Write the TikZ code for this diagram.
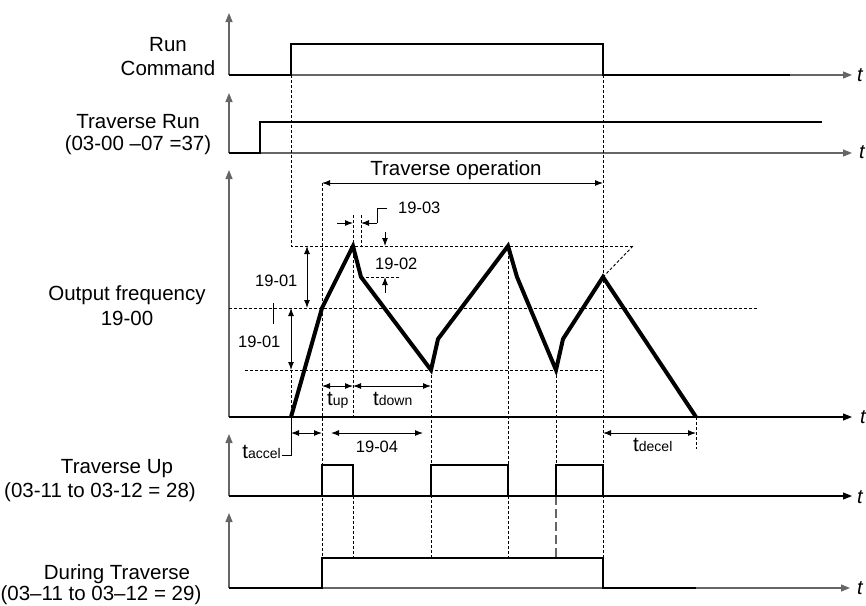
\documentclass[tikz,border=0pt]{standalone}
\usepackage{fontspec}
\setmainfont{Liberation Sans}
\usetikzlibrary{arrows.meta}
\newcommand{\mytsub}[1]{t{\fontsize{14}{14}\selectfont #1}}
\begin{document}
\begin{tikzpicture}[x=1pt,y=-1pt,
  axisline/.style={draw=black!60, line width=1.2pt, -{Triangle[length=9pt,width=7pt]}},
  axisblack/.style={draw=black, line width=1.1pt, -{Triangle[length=9pt,width=7pt]}},
  sig/.style={line width=2.4pt, line join=miter},
  wave/.style={line width=4pt, line join=miter},
  dsh/.style={line width=0.9pt, dash pattern=on 3pt off 2pt},
  ldsh/.style={line width=1.4pt, draw=black!60, dash pattern=on 9pt off 4pt},
  dimboth/.style={line width=1pt, {Latex[length=8pt,width=6pt]}-{Latex[length=8pt,width=6pt]}},
  dimto/.style={line width=1pt, -{Latex[length=8pt,width=6pt]}},
  thin/.style={line width=1pt},
  lbl/.style={font=\fontsize{20.5}{24}\selectfont, inner sep=0pt, anchor=base},
  sml/.style={font=\fontsize{16.5}{19}\selectfont, inner sep=0pt, anchor=base west},
  tlab/.style={font=\fontsize{20}{24}\selectfont\itshape, inner sep=0pt, anchor=base west},
]
\useasboundingbox (0,0) rectangle (866,605);

% left labels
\node[lbl] (rc1) at (168,51) {Run};
\node[lbl] (rc2) at (168,75) {Command};
\node[lbl] (tr1) at (138,128) {Traverse Run};
\node[lbl] (tr2) at (138,150) {(03-00 –07 =37)};
\node[lbl] (of1) at (127,300) {Output frequency};
\node[lbl] (of2) at (127,325) {19-00};
\node[lbl] (tu1) at (117,473) {Traverse Up};
\node[lbl] (tu2) at (100,497) {(03-11 to 03-12 = 28)};
\node[lbl] (dt1) at (117,579) {During Traverse};
\node[lbl] (dt2) at (101,600) {(03–11 to 03–12 = 29)};

% t labels
\node[tlab] (t1) at (857,81) {t};
\node[tlab] (t2) at (859,158) {t};
\node[tlab] (t3) at (860,423) {t};
\node[tlab] (t4) at (857,503) {t};
\node[tlab] (t5) at (857,594) {t};

% axes
\draw[axisline] (229,75) -- (229,13);
\draw[axisline] (229,75) -- (852,75);
\draw[axisline] (229,153) -- (229,93);
\draw[axisline] (229,153) -- (852,153);
\draw[axisline] (229,417) -- (229,170);
\draw[axisblack] (229,417) -- (852,417);
\draw[axisline] (229,496) -- (229,434);
\draw[axisblack] (229,496) -- (852,496);
\draw[axisline] (229,588) -- (229,513);
\draw[axisline] (229,588) -- (850,588);

% dashed guide lines
\draw[dsh] (291,75) -- (291,246) -- (633,246);
\draw[dsh] (229,308) -- (758,308);
\draw[dsh] (245,370) -- (602,370);
\draw[dsh] (361,277) -- (399,277);
\draw[dsh] (603,277) -- (633,246);
\draw[dsh] (291,370) -- (291,417);
\draw[dsh] (322,183) -- (322,558);
\draw[dsh] (353,215) -- (353,417);
\draw[dsh] (353,496) -- (353,558);
\draw[dsh] (361,215) -- (361,246);
\draw[dsh] (431,370) -- (431,558);
\draw[dsh] (508,246) -- (508,558);
\draw[dsh] (556,370) -- (556,465);
\draw[ldsh] (556,496) -- (556,558);
\draw[dsh] (603,75) -- (603,588);
\draw[dsh] (696,417) -- (696,449);

% dimensions
\node[lbl] (trop) at (456,175) {Traverse operation};
\draw[dimboth] (322,183) -- (603,183);

\node[sml] (l1903) at (398,213) {19-03};
\draw[dimto] (337,223) -- (353,223);
\draw[thin] (387,208) -- (377,208) -- (377,223);
\draw[dimto] (377,223) -- (361,223);

\node[sml] (l1902) at (375,269) {19-02};
\draw[dimto] (385,232) -- (385,246);
\draw[dimto] (385,293) -- (385,277);

\node[sml] (l1901a) at (255,286) {19-01};
\draw[dimboth] (307,246) -- (307,308);
\node[sml] (l1901b) at (238,347) {19-01};
\draw[dimboth] (291,308) -- (291,370);
\draw[thin] (273,303) -- (273,324);

\draw[dimboth] (322,386) -- (353,386);
\draw[dimboth] (353,386) -- (431,386);
\node[lbl, anchor=base west] (tup) at (327,405) {\mytsub{up}};
\node[lbl, anchor=base west] (tdown) at (373,405) {\mytsub{down}};

\draw[dimboth] (291,433) -- (322,433);
\draw[thin] (291,417) -- (291,455) -- (282,455);
\node[lbl, anchor=base east] (tacc) at (281,458) {\mytsub{accel}};

\draw[dimboth] (331,433) -- (423,433);
\node[sml, anchor=base] (l1904) at (377,452) {19-04};

\draw[dimboth] (603,433) -- (696,433);
\node[lbl, anchor=base west] (tdec) at (633,451) {\mytsub{decel}};

% waveform
\draw[wave] (291,417) -- (322,308) -- (353,246) -- (361,277) -- (431,370) -- (438,339)
  -- (508,246) -- (517,277) -- (556,370) -- (563,339) -- (603,277) -- (696,417);

% signals
\draw[sig] (229,75) -- (291,75) -- (291,44) -- (603,44) -- (603,75) -- (790,75);
\draw[sig] (229,153) -- (260,153) -- (260,122) -- (822,122);
\draw[sig] (229,496) -- (322,496) -- (322,465) -- (353,465) -- (353,496) -- (431,496)
  -- (431,465) -- (508,465) -- (508,496) -- (556,496) -- (556,465) -- (603,465)
  -- (603,496) -- (696,496);
\draw[sig] (229,588) -- (322,588) -- (322,558) -- (603,558) -- (603,588) -- (696,588);
\end{tikzpicture}
\end{document}
